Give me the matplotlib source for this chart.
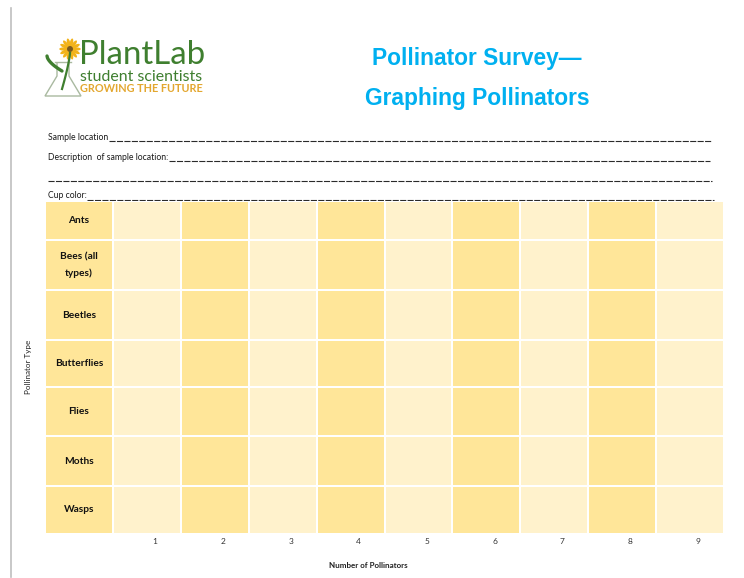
import numpy as np
import matplotlib.pyplot as plt
from matplotlib.lines import Line2D
from matplotlib.patches import Ellipse, Circle, Polygon

# --- Worksheet contents ---
pollinators = ["Ants", "Bees (all\ntypes)", "Beetles", "Butterflies", "Flies", "Moths", "Wasps"]
counts = [1, 2, 3, 4, 5, 6, 7, 8, 9]
form_fields = ["Sample location", "Description  of sample location:", "", "Cup color:"]

# --- Layout (pixels on a 744 x 578 page) ---
W, H = 744, 578
row_heights = [39, 50, 50, 47, 49, 50, 48]
table_left, table_right = 45, 724
table_top = 201
table_bottom = table_top + sum(row_heights)

DARK = "#FFE699"
LIGHT = "#FFF2CC"
TITLE_BLUE = "#00B0F0"
GREEN = "#3F7F2F"
GOLD = "#E3A72F"
BODY = ["Lato", "DejaVu Sans"]

fig = plt.figure(figsize=(W / 100, H / 100), dpi=100)
fig.patch.set_facecolor("white")

# page axes in pixel units for the header and decorations
page = fig.add_axes([0, 0, 1, 1])
page.set_xlim(0, W)
page.set_ylim(H, 0)
page.axis("off")

# left margin rule
page.plot([10.5, 10.5], [8, 577], color="#BFBFBF", lw=1.2)

# --- Logo: flower in a flask ---
flask = Polygon([[57, 62], [57, 76], [45, 96], [81, 96], [69, 76], [69, 62]],
                closed=False, fill=False, ec="#A9B9A0", lw=1.0)
page.add_patch(flask)
page.plot([55, 71], [62, 62], color="#A9B9A0", lw=1.0)
t = np.linspace(0, 1, 30)
page.plot(70 - 8 * t ** 1.3, 53 + 36 * t, color=GREEN, lw=1.6)
page.plot(47 + 15 * t, 56 + 15 * t ** 0.6, color=GREEN, lw=2.4, solid_capstyle="round")
for a in np.linspace(0, 2 * np.pi, 14, endpoint=False):
    page.add_patch(Ellipse((70 + 6.5 * np.cos(a), 49 + 6.5 * np.sin(a)), 8.5, 3.2,
                           angle=np.degrees(a), color="#F2B31B", lw=0))
page.add_patch(Circle((70, 49), 3.0, color="#7A5A1E", lw=0))

page.text(79, 55, "PlantLab", color=GREEN, fontsize=23.8, family=BODY,
          va="center", ha="left")
page.text(80, 77, "student scientists", color=GREEN, fontsize=11.4, family=BODY,
          va="center", ha="left")
page.text(80, 89, "GROWING THE FUTURE", color=GOLD, fontsize=7.8, family=BODY,
          fontweight="bold", va="center", ha="left")

# --- Title ---
page.text(477, 58, "Pollinator Survey\u2014", color=TITLE_BLUE, fontsize=16.4,
          family=["Liberation Sans", "DejaVu Sans"], fontweight="bold",
          ha="center", va="center")
page.text(477, 98, "Graphing Pollinators", color=TITLE_BLUE, fontsize=16.4,
          family=["Liberation Sans", "DejaVu Sans"], fontweight="bold",
          ha="center", va="center")

# --- Form fields with underscore lines ---
form_rows = [(137, 712), (157, 710), (177, 712), (196, 714)]
renderer = fig.canvas.get_renderer()
for label, (y, x_end) in zip(form_fields, form_rows):
    x_start = 48
    if label:
        txt = page.text(48, y, label, fontsize=6.2, family=BODY, color="#1A1A1A",
                        va="center", ha="left")
        bb = txt.get_window_extent(renderer=renderer)
        x_start = bb.x1 + 0.5
    page.add_line(Line2D([x_start, x_end], [y + 3.5, y + 3.5], color="#2A2A2A",
                         lw=0.8, dashes=(5.5, 1.2)))

# --- Tally grid ---
ax = fig.add_axes([table_left / W, 1 - table_bottom / H,
                   (table_right - table_left) / W, (table_bottom - table_top) / H])
n_cols = len(counts) + 1
x_edges = np.arange(n_cols + 1)
y_edges = np.concatenate([[0], np.cumsum(row_heights)])

# label column is shaded dark; count columns alternate light/dark
shade = np.array([0] + [1 if c % 2 else 0 for c in counts], dtype=float)
grid = np.tile(shade, (len(pollinators), 1))
cmap = plt.matplotlib.colors.ListedColormap([DARK, LIGHT])
ax.pcolormesh(x_edges, y_edges, grid, cmap=cmap, vmin=0, vmax=1,
              edgecolors="white", linewidth=1.3)
ax.set_xlim(0, n_cols)
ax.set_ylim(y_edges[-1], 0)

centers = (y_edges[:-1] + y_edges[1:]) / 2
for name, yc in zip(pollinators, centers):
    ax.text(0.5, yc, name, ha="center", va="center", fontsize=7.3, family=BODY,
            fontweight="bold", color="#111111", linespacing=1.95)

ax.set_xticks(np.array(counts) + 0.62)
ax.set_xticklabels([str(c) for c in counts], fontsize=6, family=BODY,
                   color="#333333")
ax.tick_params(axis="x", length=0, pad=3)
ax.set_yticks([])
for s in ax.spines.values():
    s.set_visible(False)

# axis titles
page.text(368, 566, "Number of Pollinators", fontsize=5.8, family=BODY,
          fontweight="bold", color="#222222", ha="center", va="center")
page.text(29, 367, "Pollinator Type", fontsize=5.8, family=BODY, color="#222222",
          rotation=90, ha="center", va="center")

fig.savefig("out.png", dpi=100)
